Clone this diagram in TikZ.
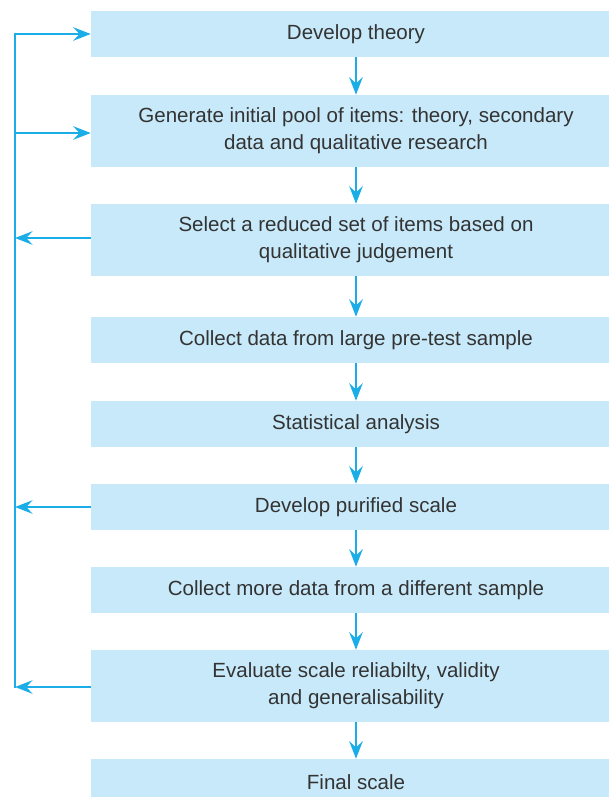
\documentclass[tikz,border=0pt]{standalone}
\usepackage{fontspec}
\setmainfont{Liberation Sans}
\usetikzlibrary{arrows.meta}
\definecolor{boxfill}{HTML}{C7E9F9}
\definecolor{arrowc}{HTML}{1BADE8}
\definecolor{txt}{HTML}{333333}
\begin{document}
\begin{tikzpicture}[x=0.75pt,y=-0.75pt,
  stage/.style={fill=boxfill, draw=none, minimum width=397.5pt, inner sep=0pt,
    align=center, text=txt, font=\fontsize{15.4}{20.3}\selectfont, anchor=center},
  flow/.style={draw=arrowc, line width=2.2pt, -{Stealth[length=13pt,width=10pt,inset=4.5pt]}},
  fline/.style={draw=arrowc, line width=2.2pt}]
\clip (0,0) rectangle (609,797);
\node[stage, minimum height=34.5pt] (b1) at (356,34) {Develop theory};
\node[stage, minimum height=54pt] (b2) at (356,131) {Generate initial pool of items: theory, secondary\\data and qualitative research};
\node[stage, minimum height=54pt] (b3) at (356,240) {Select a reduced set of items based on\\qualitative judgement};
\node[stage, minimum height=34.5pt] (b4) at (356,340) {Collect data from large pre-test sample};
\node[stage, minimum height=34.5pt] (b5) at (356,424) {Statistical analysis};
\node[stage, minimum height=34.5pt] (b6) at (356,507) {Develop purified scale};
\node[stage, minimum height=34.5pt] (b7) at (356,590) {Collect more data from a different sample};
\node[stage, minimum height=54pt] (b8) at (356,686) {Evaluate scale reliabilty, validity\\and generalisability};
\node[stage, minimum height=34.5pt] (b9) at (356,782) {Final scale};
\foreach \a/\b in {b1/b2,b2/b3,b3/b4,b4/b5,b5/b6,b6/b7,b7/b8,b8/b9}
  \draw[flow] (\a.south) -- (\b.north);
\coordinate (ltop) at (15,34);
\coordinate (lbot) at (15,687);
\draw[fline] ([yshift=1.1pt]ltop) -- ([yshift=-1.1pt]lbot);
\draw[flow] (ltop) -- (b1.west);
\draw[flow] (ltop |- 0,133) -- (b2.west |- 0,133);
\draw[flow] (b3.west |- 0,238) -- (ltop |- 0,238);
\draw[flow] (b6.west) -- (b6.west -| ltop);
\draw[flow] (b8.west |- lbot) -- (lbot);
\end{tikzpicture}
\end{document}
